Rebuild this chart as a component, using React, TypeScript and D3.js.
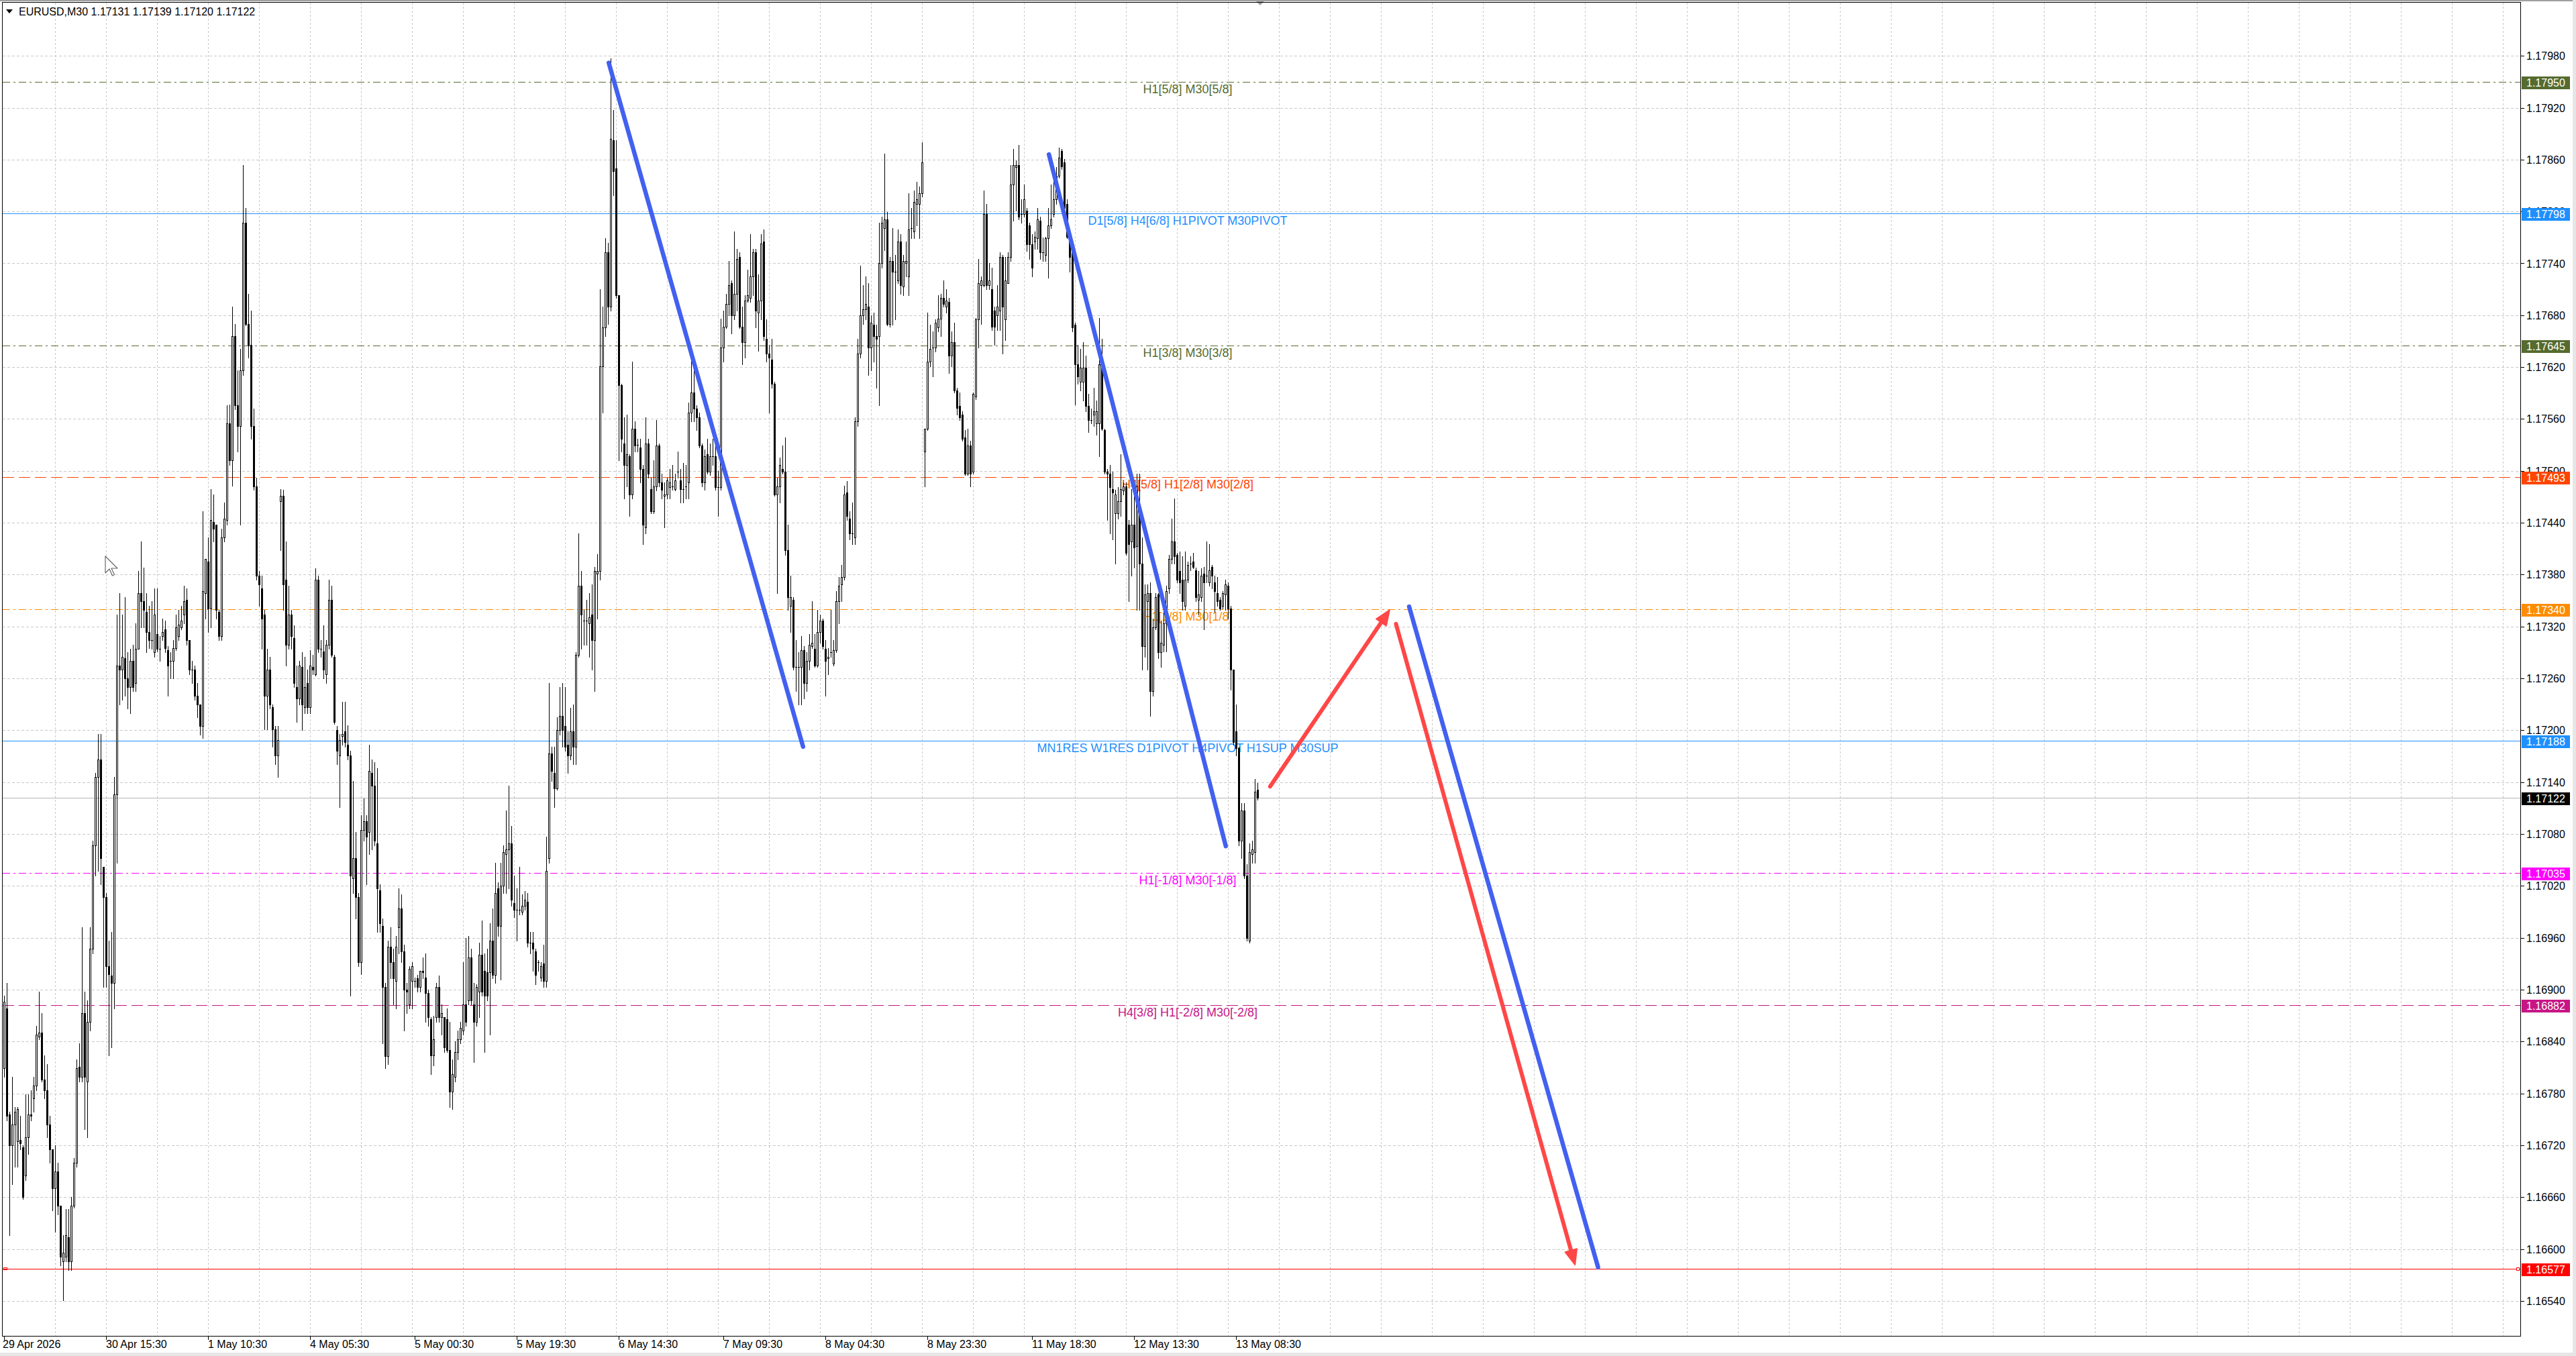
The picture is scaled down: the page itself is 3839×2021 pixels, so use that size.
import React from 'react';
import * as d3 from 'd3';

const W = 3839;
const H = 2021;

// ---------- DATA ----------
const SYMBOL = 'EURUSD,M30';
const LAST_OHLC = ['1.17131', '1.17139', '1.17120', '1.17122'];

// [open, high, low, close] per M30 bar
const BARS: number[][] = [
[1.16809,1.16893,1.16799,1.16886],[1.16878,1.16908,1.16749,1.16754],[1.16756,1.16759,1.16616,1.16720],[1.16720,1.16799,1.16675,1.16744],
[1.16744,1.16764,1.16695,1.16759],[1.16725,1.16764,1.16695,1.16762],[1.16726,1.16754,1.16715,1.16722],[1.16718,1.16720,1.16658,1.16660],
[1.16685,1.16779,1.16680,1.16729],[1.16729,1.16779,1.16710,1.16756],[1.16756,1.16784,1.16749,1.16754],[1.16774,1.16799,1.16759,1.16789],
[1.16789,1.16858,1.16784,1.16848],[1.16846,1.16898,1.16843,1.16850],[1.16850,1.16873,1.16794,1.16796],[1.16796,1.16824,1.16774,1.16784],
[1.16784,1.16814,1.16729,1.16744],[1.16744,1.16754,1.16700,1.16715],[1.16715,1.16715,1.16645,1.16670],[1.16670,1.16720,1.16620,1.16690],
[1.16690,1.16700,1.16640,1.16650],[1.16650,1.16650,1.16581,1.16591],[1.16586,1.16616,1.16541,1.16596],[1.16591,1.16646,1.16586,1.16616],
[1.16614,1.16646,1.16576,1.16586],[1.16586,1.16660,1.16576,1.16650],[1.16650,1.16705,1.16648,1.16700],[1.16700,1.16819,1.16695,1.16809],
[1.16811,1.16838,1.16794,1.16799],[1.16799,1.16972,1.16794,1.16873],[1.16873,1.16898,1.16739,1.16799],[1.16794,1.16888,1.16729,1.16863],
[1.16863,1.16972,1.16853,1.16947],[1.16947,1.17072,1.16942,1.17067],[1.17067,1.17151,1.17032,1.17146],[1.17146,1.17196,1.17037,1.17166],
[1.17166,1.17196,1.17022,1.17052],[1.17042,1.17042,1.16903,1.17007],[1.17007,1.17012,1.16903,1.16927],[1.16927,1.16957,1.16824,1.16918],
[1.16916,1.16967,1.16833,1.16908],[1.16908,1.17146,1.16878,1.17126],[1.17126,1.17334,1.17047,1.17275],[1.17275,1.17359,1.17230,1.17270],
[1.17270,1.17334,1.17235,1.17285],[1.17283,1.17354,1.17240,1.17260],[1.17260,1.17290,1.17225,1.17250],[1.17250,1.17294,1.17220,1.17280],
[1.17280,1.17299,1.17245,1.17250],[1.17255,1.17324,1.17245,1.17294],[1.17294,1.17384,1.17294,1.17359],[1.17359,1.17418,1.17319,1.17349],
[1.17349,1.17388,1.17319,1.17339],[1.17337,1.17359,1.17290,1.17314],[1.17314,1.17344,1.17295,1.17304],[1.17304,1.17349,1.17294,1.17304],
[1.17290,1.17364,1.17285,1.17334],[1.17311,1.17364,1.17291,1.17294],[1.17294,1.17309,1.17280,1.17294],[1.17309,1.17329,1.17304,1.17314],
[1.17317,1.17327,1.17290,1.17295],[1.17293,1.17297,1.17240,1.17275],[1.17280,1.17290,1.17260,1.17280],[1.17280,1.17304,1.17260,1.17295],
[1.17295,1.17334,1.17293,1.17319],[1.17309,1.17339,1.17304,1.17322],[1.17319,1.17344,1.17317,1.17327],[1.17334,1.17367,1.17324,1.17349],
[1.17351,1.17364,1.17299,1.17304],[1.17304,1.17304,1.17265,1.17270],[1.17270,1.17280,1.17255,1.17270],[1.17270,1.17275,1.17235,1.17240],
[1.17240,1.17255,1.17215,1.17230],[1.17230,1.17230,1.17195,1.17205],[1.17205,1.17453,1.17191,1.17361],[1.17359,1.17398,1.17329,1.17398],
[1.17395,1.17423,1.17314,1.17341],[1.17341,1.17479,1.17319,1.17443],[1.17441,1.17473,1.17418,1.17433],[1.17438,1.17438,1.17329,1.17339],
[1.17337,1.17339,1.17304,1.17309],[1.17309,1.17433,1.17304,1.17423],[1.17423,1.17463,1.17418,1.17445],[1.17443,1.17576,1.17438,1.17555],
[1.17555,1.17577,1.17507,1.17512],[1.17512,1.17690,1.17483,1.17656],[1.17656,1.17670,1.17571,1.17576],[1.17576,1.17616,1.17522,1.17552],
[1.17552,1.17641,1.17438,1.17616],[1.17616,1.17854,1.17611,1.17787],[1.17787,1.17804,1.17668,1.17670],[1.17670,1.17705,1.17631,1.17646],
[1.17646,1.17685,1.17537,1.17552],[1.17552,1.17572,1.17478,1.17482],[1.17482,1.17492,1.17374,1.17379],[1.17379,1.17384,1.17344,1.17369],
[1.17364,1.17379,1.17294,1.17329],[1.17334,1.17339,1.17201,1.17240],[1.17240,1.17294,1.17201,1.17270],[1.17270,1.17285,1.17225,1.17230],
[1.17227,1.17230,1.17181,1.17201],[1.17201,1.17205,1.17161,1.17171],[1.17171,1.17205,1.17146,1.17189],[1.17465,1.17479,1.17408,1.17471],
[1.17471,1.17478,1.17339,1.17369],[1.17374,1.17418,1.17275,1.17299],[1.17299,1.17367,1.17294,1.17334],[1.17334,1.17339,1.17294,1.17309],
[1.17307,1.17321,1.17250,1.17255],[1.17250,1.17275,1.17210,1.17237],[1.17237,1.17280,1.17230,1.17275],[1.17273,1.17290,1.17200,1.17230],
[1.17227,1.17285,1.17220,1.17250],[1.17255,1.17270,1.17220,1.17227],[1.17227,1.17293,1.17220,1.17275],[1.17273,1.17287,1.17265,1.17270],
[1.17265,1.17387,1.17263,1.17374],[1.17374,1.17379,1.17290,1.17294],[1.17294,1.17304,1.17285,1.17294],[1.17291,1.17321,1.17260,1.17270],
[1.17265,1.17304,1.17255,1.17299],[1.17299,1.17374,1.17294,1.17351],[1.17351,1.17367,1.17285,1.17287],[1.17285,1.17287,1.17207,1.17210],
[1.17200,1.17205,1.17161,1.17176],[1.17171,1.17196,1.17111,1.17189],[1.17193,1.17233,1.17183,1.17196],[1.17199,1.17233,1.17181,1.17186],
[1.17183,1.17206,1.17166,1.17171],[1.17171,1.17176,1.16893,1.17032],[1.17029,1.17141,1.17012,1.17052],[1.17052,1.17082,1.16982,1.17007],
[1.17007,1.17012,1.16927,1.16932],[1.16932,1.17102,1.16918,1.17085],[1.17085,1.17121,1.17072,1.17095],[1.17095,1.17102,1.17022,1.17077],
[1.17082,1.17183,1.17057,1.17153],[1.17151,1.17166,1.17062,1.17136],[1.17136,1.17163,1.17067,1.17072],[1.17069,1.17156,1.16967,1.17017],
[1.17015,1.17022,1.16967,1.16977],[1.16974,1.16982,1.16838,1.16903],[1.16903,1.16908,1.16809,1.16823],[1.16823,1.16957,1.16814,1.16950],
[1.16950,1.16972,1.16913,1.16932],[1.16932,1.16947,1.16883,1.16913],[1.16910,1.16962,1.16878,1.16950],[1.16972,1.17017,1.16942,1.16994],
[1.16994,1.17010,1.16932,1.16944],[1.16944,1.16952,1.16853,1.16900],[1.16900,1.16908,1.16873,1.16898],[1.16883,1.16927,1.16878,1.16924],
[1.16910,1.16932,1.16878,1.16927],[1.16910,1.16914,1.16903,1.16910],[1.16913,1.16917,1.16898,1.16903],[1.16903,1.16922,1.16898,1.16922],
[1.16922,1.16937,1.16913,1.16920],[1.16914,1.16942,1.16863,1.16896],[1.16896,1.16900,1.16858,1.16868],[1.16866,1.16868,1.16802,1.16824],
[1.16824,1.16870,1.16812,1.16843],[1.16868,1.16908,1.16863,1.16903],[1.16903,1.16916,1.16863,1.16868],[1.16868,1.16883,1.16848,1.16873],
[1.16868,1.16868,1.16828,1.16833],[1.16866,1.16878,1.16828,1.16830],[1.16830,1.16863,1.16764,1.16782],[1.16782,1.16819,1.16762,1.16802],
[1.16799,1.16840,1.16794,1.16828],[1.16828,1.16853,1.16819,1.16843],[1.16843,1.16863,1.16838,1.16856],[1.16853,1.16932,1.16848,1.16883],
[1.16883,1.16960,1.16858,1.16863],[1.16888,1.16962,1.16883,1.16937],[1.16937,1.16947,1.16883,1.16888],[1.16883,1.16908,1.16816,1.16863],
[1.16863,1.16906,1.16858,1.16903],[1.16898,1.16954,1.16868,1.16940],[1.16940,1.16980,1.16893,1.16898],[1.16922,1.16942,1.16828,1.16893],
[1.16920,1.16947,1.16888,1.16893],[1.16920,1.16977,1.16848,1.16957],[1.16957,1.16994,1.16913,1.16917],[1.16917,1.17047,1.16908,1.17012],
[1.17017,1.17024,1.16962,1.16974],[1.16974,1.17047,1.16912,1.17020],[1.17020,1.17067,1.17012,1.17059],[1.17057,1.17107,1.17012,1.17062],
[1.17062,1.17136,1.17017,1.17069],[1.17069,1.17089,1.16997,1.17004],[1.17000,1.17032,1.16984,1.16992],[1.16992,1.17017,1.16957,1.16992],
[1.16992,1.17042,1.16987,1.16992],[1.16990,1.17010,1.16987,1.16997],[1.16997,1.17014,1.16992,1.17004],[1.17002,1.17012,1.16950,1.16954],
[1.16954,1.16967,1.16942,1.16954],[1.16954,1.16967,1.16922,1.16947],[1.16944,1.16947,1.16906,1.16917],[1.16932,1.16934,1.16922,1.16932],
[1.16914,1.16932,1.16910,1.16927],[1.16930,1.16952,1.16903,1.16910],[1.16910,1.17077,1.16903,1.17037],[1.17052,1.17255,1.17047,1.17173],
[1.17173,1.17181,1.17141,1.17153],[1.17151,1.17181,1.17111,1.17133],[1.17133,1.17215,1.17131,1.17200],[1.17200,1.17250,1.17195,1.17217],
[1.17217,1.17255,1.17181,1.17200],[1.17205,1.17250,1.17176,1.17181],[1.17183,1.17199,1.17151,1.17171],[1.17171,1.17226,1.17166,1.17199],
[1.17199,1.17230,1.17161,1.17181],[1.17181,1.17290,1.17161,1.17287],[1.17287,1.17428,1.17285,1.17367],[1.17367,1.17384,1.17294,1.17334],
[1.17327,1.17339,1.17299,1.17327],[1.17327,1.17351,1.17299,1.17327],[1.17324,1.17359,1.17285,1.17331],[1.17334,1.17369,1.17270,1.17304],
[1.17304,1.17389,1.17245,1.17384],[1.17381,1.17404,1.17329,1.17384],[1.17384,1.17710,1.17374,1.17621],[1.17621,1.17690,1.17567,1.17666],
[1.17666,1.17769,1.17656,1.17753],[1.17753,1.17764,1.17670,1.17690],[1.17690,1.17977,1.17685,1.17884],[1.17882,1.17917,1.17819,1.17847],
[1.17850,1.17882,1.17700,1.17703],[1.17703,1.17703,1.17512,1.17599],[1.17599,1.17601,1.17522,1.17537],[1.17532,1.17562,1.17468,1.17507],
[1.17507,1.17565,1.17482,1.17519],[1.17517,1.17519,1.17448,1.17473],[1.17473,1.17626,1.17468,1.17549],[1.17549,1.17557,1.17522,1.17529],
[1.17530,1.17537,1.17522,1.17530],[1.17527,1.17537,1.17487,1.17502],[1.17502,1.17507,1.17415,1.17438],[1.17435,1.17562,1.17428,1.17532],
[1.17532,1.17537,1.17492,1.17497],[1.17479,1.17492,1.17451,1.17453],[1.17453,1.17512,1.17451,1.17482],[1.17482,1.17559,1.17477,1.17529],
[1.17529,1.17532,1.17482,1.17487],[1.17487,1.17497,1.17468,1.17478],[1.17471,1.17487,1.17435,1.17473],[1.17473,1.17492,1.17468,1.17489],
[1.17481,1.17502,1.17468,1.17487],[1.17482,1.17507,1.17478,1.17482],[1.17479,1.17497,1.17477,1.17489],[1.17499,1.17522,1.17492,1.17499],
[1.17489,1.17502,1.17463,1.17479],[1.17479,1.17509,1.17463,1.17479],[1.17482,1.17507,1.17468,1.17482],[1.17487,1.17579,1.17468,1.17567],
[1.17567,1.17633,1.17557,1.17591],[1.17591,1.17621,1.17557,1.17572],[1.17572,1.17576,1.17547,1.17562],[1.17562,1.17567,1.17527,1.17529],
[1.17529,1.17532,1.17482,1.17487],[1.17487,1.17525,1.17478,1.17517],[1.17519,1.17537,1.17497,1.17499],[1.17499,1.17532,1.17495,1.17517],
[1.17517,1.17537,1.17507,1.17517],[1.17517,1.17537,1.17478,1.17481],[1.17481,1.17500,1.17448,1.17481],[1.17481,1.17676,1.17478,1.17643],
[1.17643,1.17685,1.17626,1.17667],[1.17667,1.17705,1.17665,1.17693],[1.17693,1.17743,1.17680,1.17715],[1.17717,1.17720,1.17659,1.17680],
[1.17680,1.17777,1.17675,1.17705],[1.17705,1.17757,1.17685,1.17745],[1.17747,1.17753,1.17665,1.17667],[1.17667,1.17690,1.17623,1.17649],
[1.17649,1.17703,1.17631,1.17697],[1.17697,1.17733,1.17695,1.17703],[1.17700,1.17774,1.17695,1.17725],[1.17725,1.17757,1.17703,1.17753],
[1.17753,1.17757,1.17666,1.17685],[1.17683,1.17727,1.17639,1.17697],[1.17697,1.17774,1.17675,1.17763],[1.17765,1.17779,1.17651,1.17656],
[1.17653,1.17675,1.17626,1.17636],[1.17636,1.17646,1.17567,1.17631],[1.17629,1.17653,1.17596,1.17601],[1.17601,1.17603,1.17471,1.17473],
[1.17473,1.17492,1.17359,1.17482],[1.17482,1.17515,1.17463,1.17507],[1.17502,1.17529,1.17497,1.17499],[1.17499,1.17539,1.17403,1.17408],
[1.17408,1.17438,1.17339,1.17354],[1.17344,1.17379,1.17314,1.17354],[1.17351,1.17354,1.17270,1.17273],[1.17273,1.17304,1.17245,1.17273],
[1.17273,1.17290,1.17230,1.17273],[1.17273,1.17309,1.17230,1.17293],[1.17293,1.17297,1.17237,1.17255],[1.17255,1.17290,1.17245,1.17280],
[1.17280,1.17311,1.17270,1.17299],[1.17297,1.17349,1.17295,1.17301],[1.17294,1.17311,1.17273,1.17275],[1.17275,1.17339,1.17273,1.17314],
[1.17314,1.17334,1.17301,1.17327],[1.17327,1.17329,1.17294,1.17297],[1.17294,1.17304,1.17240,1.17280],[1.17283,1.17295,1.17265,1.17285],
[1.17290,1.17339,1.17285,1.17290],[1.17277,1.17304,1.17275,1.17293],[1.17293,1.17361,1.17290,1.17349],[1.17349,1.17377,1.17324,1.17367],
[1.17369,1.17391,1.17349,1.17377],[1.17377,1.17483,1.17374,1.17473],[1.17475,1.17488,1.17443,1.17448],[1.17445,1.17453,1.17421,1.17428],
[1.17428,1.17463,1.17415,1.17428],[1.17423,1.17562,1.17415,1.17557],[1.17557,1.17653,1.17552,1.17636],[1.17636,1.17737,1.17631,1.17680],
[1.17680,1.17715,1.17670,1.17687],[1.17687,1.17725,1.17675,1.17693],[1.17690,1.17717,1.17611,1.17643],[1.17643,1.17680,1.17616,1.17671],
[1.17669,1.17683,1.17626,1.17656],[1.17656,1.17669,1.17596,1.17653],[1.17656,1.17787,1.17576,1.17740],[1.17740,1.17794,1.17735,1.17787],
[1.17781,1.17867,1.17755,1.17791],[1.17791,1.17799,1.17668,1.17670],[1.17670,1.17747,1.17667,1.17743],[1.17743,1.17781,1.17669,1.17730],
[1.17730,1.17750,1.17675,1.17730],[1.17720,1.17779,1.17717,1.17765],[1.17765,1.17774,1.17705,1.17715],[1.17713,1.17750,1.17703,1.17743],
[1.17740,1.17765,1.17725,1.17743],[1.17725,1.17821,1.17703,1.17779],[1.17781,1.17804,1.17769,1.17781],[1.17777,1.17824,1.17769,1.17811],
[1.17809,1.17834,1.17784,1.17814],[1.17809,1.17829,1.17769,1.17821],[1.17821,1.17880,1.17817,1.17857],[1.17522,1.17549,1.17482,1.17549],
[1.17549,1.17683,1.17547,1.17626],[1.17626,1.17669,1.17621,1.17641],[1.17643,1.17661,1.17609,1.17643],[1.17643,1.17675,1.17638,1.17671],
[1.17666,1.17703,1.17661,1.17676],[1.17676,1.17705,1.17656,1.17700],[1.17700,1.17720,1.17690,1.17693],[1.17690,1.17710,1.17683,1.17697],
[1.17695,1.17700,1.17613,1.17633],[1.17633,1.17661,1.17621,1.17649],[1.17649,1.17671,1.17591,1.17593],[1.17593,1.17596,1.17565,1.17573],
[1.17575,1.17591,1.17559,1.17562],[1.17565,1.17569,1.17535,1.17537],[1.17539,1.17547,1.17495,1.17497],[1.17497,1.17549,1.17495,1.17529],
[1.17529,1.17535,1.17482,1.17497],[1.17499,1.17591,1.17497,1.17589],[1.17586,1.17677,1.17583,1.17675],[1.17675,1.17745,1.17643,1.17717],
[1.17715,1.17725,1.17670,1.17720],[1.17715,1.17824,1.17713,1.17797],[1.17797,1.17809,1.17710,1.17715],[1.17715,1.17740,1.17710,1.17720],
[1.17710,1.17735,1.17663,1.17667],[1.17685,1.17690,1.17646,1.17667],[1.17680,1.17715,1.17663,1.17690],[1.17685,1.17753,1.17663,1.17747],
[1.17747,1.17750,1.17636,1.17690],[1.17675,1.17747,1.17651,1.17720],[1.17717,1.17753,1.17717,1.17747],[1.17747,1.17854,1.17743,1.17831],
[1.17831,1.17872,1.17789,1.17854],[1.17851,1.17859,1.17801,1.17854],[1.17854,1.17877,1.17791,1.17794],[1.17797,1.17814,1.17787,1.17797],
[1.17797,1.17831,1.17794,1.17814],[1.17801,1.17804,1.17754,1.17762],[1.17784,1.17787,1.17745,1.17762],[1.17762,1.17774,1.17725,1.17735],
[1.17765,1.17777,1.17757,1.17771],[1.17769,1.17804,1.17757,1.17791],[1.17789,1.17794,1.17745,1.17753],[1.17753,1.17770,1.17743,1.17753],
[1.17750,1.17771,1.17743,1.17769],[1.17769,1.17804,1.17723,1.17784],[1.17784,1.17831,1.17781,1.17791],[1.17797,1.17844,1.17794,1.17814],
[1.17814,1.17851,1.17809,1.17841],[1.17841,1.17874,1.17839,1.17862],[1.17870,1.17872,1.17849,1.17852],[1.17857,1.17861,1.17801,1.17804],
[1.17809,1.17814,1.17769,1.17771],[1.17771,1.17774,1.17730,1.17747],[1.17753,1.17757,1.17661,1.17666],[1.17669,1.17671,1.17577,1.17623],
[1.17623,1.17646,1.17601,1.17609],[1.17603,1.17641,1.17593,1.17619],[1.17603,1.17649,1.17581,1.17619],[1.17619,1.17633,1.17569,1.17575],
[1.17575,1.17589,1.17545,1.17559],[1.17559,1.17572,1.17555,1.17559],[1.17565,1.17596,1.17552,1.17569],[1.17555,1.17581,1.17542,1.17569],
[1.17555,1.17677,1.17517,1.17623],[1.17626,1.17653,1.17547,1.17549],[1.17547,1.17549,1.17497,1.17499],[1.17499,1.17502,1.17443,1.17497],
[1.17497,1.17507,1.17428,1.17481],[1.17479,1.17499,1.17421,1.17475],[1.17451,1.17478,1.17393,1.17473],[1.17451,1.17481,1.17445,1.17465],
[1.17465,1.17519,1.17448,1.17479],[1.17477,1.17487,1.17473,1.17482],[1.17482,1.17487,1.17403,1.17405],[1.17438,1.17443,1.17349,1.17415],
[1.17418,1.17479,1.17379,1.17438],[1.17438,1.17479,1.17388,1.17411],[1.17413,1.17497,1.17339,1.17483],[1.17453,1.17497,1.17339,1.17393],
[1.17393,1.17423,1.17270,1.17297],[1.17297,1.17369,1.17285,1.17357],[1.17349,1.17369,1.17270,1.17359],[1.17359,1.17371,1.17217,1.17245],
[1.17245,1.17329,1.17240,1.17319],[1.17319,1.17359,1.17317,1.17354],[1.17357,1.17359,1.17283,1.17290],[1.17290,1.17327,1.17273,1.17301],
[1.17299,1.17339,1.17291,1.17324],[1.17324,1.17367,1.17291,1.17361],[1.17364,1.17403,1.17359,1.17398],[1.17398,1.17445,1.17393,1.17418],
[1.17418,1.17468,1.17393,1.17401],[1.17403,1.17405,1.17371,1.17374],[1.17384,1.17407,1.17359,1.17371],[1.17374,1.17401,1.17339,1.17349],
[1.17344,1.17407,1.17339,1.17374],[1.17374,1.17395,1.17371,1.17391],[1.17393,1.17401,1.17385,1.17393],[1.17395,1.17405,1.17387,1.17389],
[1.17385,1.17388,1.17349,1.17354],[1.17351,1.17384,1.17334,1.17357],[1.17354,1.17387,1.17349,1.17379],[1.17381,1.17389,1.17317,1.17371],
[1.17379,1.17418,1.17371,1.17379],[1.17371,1.17415,1.17367,1.17385],[1.17389,1.17391,1.17364,1.17379],[1.17371,1.17379,1.17337,1.17361],
[1.17359,1.17377,1.17344,1.17349],[1.17351,1.17354,1.17339,1.17341],[1.17344,1.17361,1.17341,1.17359],[1.17357,1.17374,1.17339,1.17369],
[1.17367,1.17371,1.17329,1.17341],[1.17341,1.17344,1.17247,1.17270],[1.17270,1.17270,1.17183,1.17186],[1.17199,1.17230,1.17171,1.17179],
[1.17179,1.17181,1.17067,1.17072],[1.17072,1.17116,1.17052,1.17107],[1.17107,1.17116,1.17029,1.17032],[1.17032,1.17045,1.16957,1.16960],
[1.16957,1.17069,1.16954,1.17059],[1.17057,1.17072,1.17047,1.17062],[1.17059,1.17144,1.17047,1.17129],[1.17131,1.17139,1.17120,1.17122]
];

const TIME_TICK_BARS = [0, 38, 76, 114, 153, 191, 229, 268, 306, 344, 383, 421, 459];
const TIME_TICK_LABELS = ['29 Apr 2026', '30 Apr 15:30', '1 May 10:30', '4 May 05:30', '5 May 00:30', '5 May 19:30',
  '6 May 14:30', '7 May 09:30', '8 May 04:30', '8 May 23:30', '11 May 18:30', '12 May 13:30', '13 May 08:30'];

const PRICE_TICKS = [1.16540, 1.16600, 1.16660, 1.16720, 1.16780, 1.16840, 1.16900, 1.16960, 1.17020, 1.17080,
  1.17140, 1.17200, 1.17260, 1.17320, 1.17380, 1.17440, 1.17500, 1.17560, 1.17620, 1.17680, 1.17740, 1.17800,
  1.17860, 1.17920, 1.17980];

const LEVEL_PRICES = [1.17950, 1.17798, 1.17645, 1.17493, 1.17340, 1.17188, 1.17035, 1.16882, 1.16577];
const LEVEL_TEXT = ['H1[5/8] M30[5/8]', 'D1[5/8] H4[6/8] H1PIVOT M30PIVOT', 'H1[3/8] M30[3/8]', 'H4[5/8] H1[2/8] M30[2/8]',
  'H1[1/8] M30[1/8]', 'MN1RES W1RES D1PIVOT H4PIVOT H1SUP M30SUP', 'H1[-1/8] M30[-1/8]', 'H4[3/8] H1[-2/8] M30[-2/8]', ''];
const LEVEL_COLORS = ['#556B2F', '#1E90FF', '#556B2F', '#FF4500', '#FF8C00', '#1E90FF', '#FF00FF', '#C71585', '#FF0000'];
const LEVEL_STYLE = ['dashdot', 'solid', 'dashdot', 'dash', 'dashdot', 'solid', 'dashdot', 'dash', 'solid'];
const BID = 1.17122;

// trend lines & arrows: [barStart, priceStart, barEnd, priceEnd]
const BLUE_LINES = [
  [225.3, 1.17972, 297.7, 1.17181],
  [389.3, 1.17866, 455.2, 1.17066],
  [523.5, 1.17343, 593.9, 1.16579],
];
const RED_ARROWS = [
  [471.7, 1.17135, 516.2, 1.17339],
  [518.6, 1.17323, 585.3, 1.16582],
];
const LABEL_BAR = 441;

// ---------- LAYOUT ----------
const L = 4, T = 4, R = 3756, B = 1991;
const FONT = '"Liberation Sans", Arial, sans-serif';

export default function App() {
  const x = d3.scaleLinear().domain([0, 937.5]).range([6, R]);
  const y = d3.scaleLinear().domain([1.1654, 1.1798]).range([1939.0, 83.2]);

  const dashFor = (s: string) => (s === 'dashdot' ? '11,5,3,5' : s === 'dash' ? '17,7' : undefined);

  const gridBars = d3.range(19, 937, 19);

  const arrowHead = (a: number[]) => {
    const x1 = x(a[0]), y1 = y(a[1]), x2 = x(a[2]), y2 = y(a[3]);
    const dx = x2 - x1, dy = y2 - y1, len = Math.hypot(dx, dy);
    const ux = dx / len, uy = dy / len, nx = -uy, ny = ux;
    const hl = 22, hw = 9;
    const bx = x2 - ux * hl, by = y2 - uy * hl;
    return {
      line: [x1, y1, bx + ux * 2, by + uy * 2],
      head: `${x2},${y2} ${bx + nx * hw},${by + ny * hw} ${bx - nx * hw},${by - ny * hw}`,
    };
  };

  return (
    <div>
      <style>{'body{margin:0;overflow:hidden;background:#fff}'}</style>
      <svg width={W} height={H} style={{ display: 'block' }} fontFamily={FONT}>
        <rect x={0} y={0} width={W} height={H} fill="#ffffff" />
        <rect x={0} y={0} width={W} height={2} fill="#A0A0A0" />
        <rect x={3834} y={0} width={5} height={H} fill="#E6E6E6" />
        <rect x={0} y={2016} width={W} height={5} fill="#E6E6E6" />

        {/* grid */}
        <g shapeRendering="crispEdges">
          {PRICE_TICKS.map((p, k) => (
            <line key={'hg' + k} x1={L} x2={R} y1={Math.round(y(p)) + 0.5} y2={Math.round(y(p)) + 0.5}
              stroke="#C8C8C8" strokeDasharray="4,3" />
          ))}
          {gridBars.map((b, k) => (
            <line key={'vg' + k} x1={Math.round(x(b)) + 0.5} x2={Math.round(x(b)) + 0.5} y1={T} y2={B}
              stroke="#C8C8C8" strokeDasharray="3,3" />
          ))}
        </g>

        {/* level lines */}
        <g shapeRendering="crispEdges">
          <line x1={L} x2={R} y1={Math.round(y(BID)) + 0.5} y2={Math.round(y(BID)) + 0.5} stroke="#B4B4B4" />
          {LEVEL_PRICES.map((p, k) => (
            <line key={'lv' + k} x1={L} x2={R} y1={Math.round(y(p)) + 0.5} y2={Math.round(y(p)) + 0.5}
              stroke={LEVEL_COLORS[k]} strokeWidth={1}
              strokeDasharray={dashFor(LEVEL_STYLE[k])} />
          ))}
        </g>

        {/* level labels */}
        <g fontSize={18} textAnchor="middle">
          {LEVEL_PRICES.map((p, k) => LEVEL_TEXT[k] ? (
            <text key={'lt' + k} x={x(LABEL_BAR)} y={y(p) + 17} fill={LEVEL_COLORS[k]}>{LEVEL_TEXT[k]}</text>
          ) : null)}
        </g>

        {/* candles */}
        <g shapeRendering="crispEdges">
          {BARS.map((d, i) => {
            const [o, h0, l0, c] = d;
            const hi = Math.max(h0, o, c), lo = Math.min(l0, o, c);
            const X = Math.round(x(i));
            const yt = Math.round(y(Math.max(o, c)));
            const yb = Math.round(y(Math.min(o, c)));
            const bull = c > o;
            return (
              <g key={'c' + i}>
                <line x1={X + 0.5} x2={X + 0.5} y1={Math.round(y(hi))} y2={Math.round(y(lo)) + 1} stroke="#000" />
                {yb - yt < 1 ? (
                  <line x1={X - 1} x2={X + 2} y1={yt + 0.5} y2={yt + 0.5} stroke="#000" />
                ) : bull ? (
                  <rect x={X - 0.5} y={yt + 0.5} width={2} height={yb - yt} fill="#fff" stroke="#000" />
                ) : (
                  <rect x={X - 1} y={yt} width={3} height={yb - yt + 1} fill="#000" />
                )}
              </g>
            );
          })}
        </g>

        {/* trend lines & arrows */}
        <g strokeLinecap="round">
          {BLUE_LINES.map((a, k) => (
            <line key={'bl' + k} x1={x(a[0])} y1={y(a[1])} x2={x(a[2])} y2={y(a[3])} stroke="#4261F0" strokeWidth={6.5} />
          ))}
          {RED_ARROWS.map((a, k) => {
            const g = arrowHead(a);
            return (
              <g key={'ra' + k}>
                <line x1={g.line[0]} y1={g.line[1]} x2={g.line[2]} y2={g.line[3]} stroke="#FF4747" strokeWidth={6} />
                <polygon points={g.head} fill="#FF4747" stroke="#FF4747" strokeWidth={2} strokeLinejoin="round" />
              </g>
            );
          })}
        </g>

        {/* alert markers */}
        <rect x={5.5} y={Math.round(y(1.16577)) - 1.5} width={5} height={3} fill="none" stroke="#FF0000" />
        <rect x={3750.5} y={Math.round(y(1.16577)) - 1.5} width={4} height={4} fill="#fff" stroke="#FF0000" />

        {/* mouse cursor */}
        <polygon points="157,829 157,854 163,848 167.5,858 170.5,856.5 166,847 175,847"
          fill="#fff" stroke="#666" strokeWidth={1.2} strokeLinejoin="round" />

        {/* chart shift marker */}
        <polygon points="1871,1 1885,1 1878,8" fill="#A0A0A0" />

        {/* frame */}
        <g shapeRendering="crispEdges">
          <rect x={L - 0.5} y={T - 0.5} width={R - L + 1} height={B - T + 1} fill="none" stroke="#000" strokeWidth={1.5} />
        </g>

        {/* price axis */}
        <g fontSize={16} shapeRendering="crispEdges">
          {PRICE_TICKS.map((p, k) => (
            <g key={'pt' + k}>
              <line x1={R} x2={R + 6} y1={Math.round(y(p)) + 0.5} y2={Math.round(y(p)) + 0.5} stroke="#000" />
              <text x={3765} y={y(p) + 6} fill="#000">{p.toFixed(5)}</text>
            </g>
          ))}
          {[...LEVEL_PRICES.map((p, k) => ({ p, c: LEVEL_COLORS[k] })), { p: BID, c: '#000000' }].map((d, k) => (
            <g key={'pb' + k}>
              <rect x={3758} y={y(d.p) - 8} width={72} height={19} fill={d.c} />
              <text x={3765} y={y(d.p) + 7} fill="#fff">{d.p.toFixed(5)}</text>
            </g>
          ))}
        </g>

        {/* time axis */}
        <g fontSize={16} shapeRendering="crispEdges">
          {TIME_TICK_BARS.map((b, k) => (
            <g key={'tt' + k}>
              <line x1={Math.round(x(b)) + 0.5} x2={Math.round(x(b)) + 0.5} y1={B} y2={B + 6} stroke="#000" />
              <text x={k === 0 ? 4 : Math.round(x(b))} y={2009} fill="#000">{TIME_TICK_LABELS[k]}</text>
            </g>
          ))}
        </g>

        {/* header */}
        <polygon points="9,14 19,14 14,20" fill="#000" />
        <text x={28} y={23} fontSize={16} fill="#000">{SYMBOL + '  ' + LAST_OHLC.join(' ')}</text>
      </svg>
    </div>
  );
}
